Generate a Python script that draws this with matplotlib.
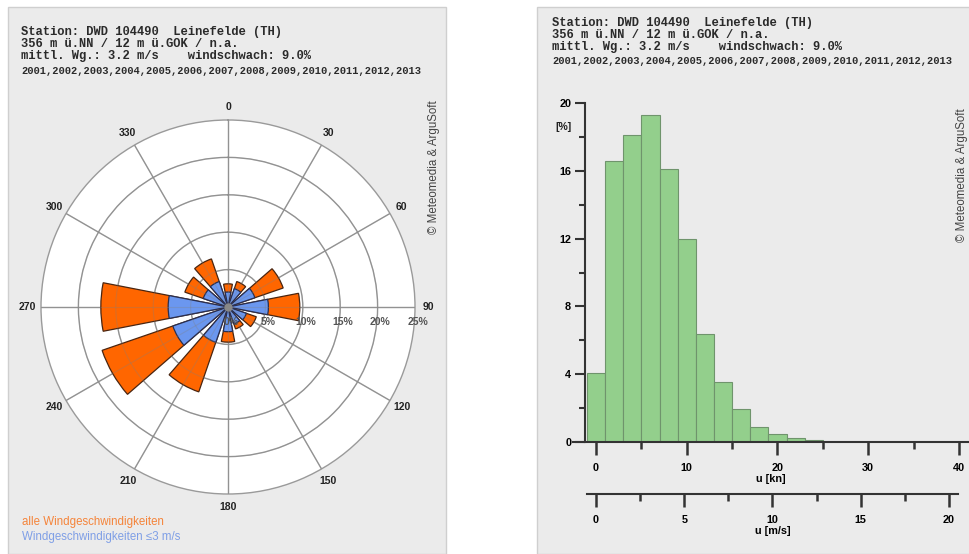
import numpy as np
import matplotlib
matplotlib.use('Agg')
import matplotlib.pyplot as plt
from matplotlib.patches import Rectangle
from matplotlib.ticker import MultipleLocator

plt.rcParams['font.family'] = ['Liberation Sans', 'DejaVu Sans']

# wind rose data (direction in degrees, frequency in %)
directions = [0, 30, 60, 90, 120, 150, 180, 210, 240, 270, 300, 330]
all_speeds = [3.1, 3.6, 7.8, 9.6, 4.0, 3.1, 4.7, 12.0, 17.8, 17.0, 6.1, 6.8]
low_speeds = [2.0, 2.6, 3.8, 5.4, 2.6, 2.4, 3.3, 5.0, 7.8, 8.0, 3.5, 3.6]
rose_rings = [5, 10, 15, 20, 25]

# speed distribution (bin centres in knots, frequency in %)
speed_kn = [0, 2, 4, 6, 8, 10, 12, 14, 16, 18, 20, 22, 24]
speed_freq = [4.1, 16.6, 18.1, 19.3, 16.1, 12.0, 6.4, 3.55, 1.97, 0.9, 0.47, 0.25, 0.12]

header = ['Station: DWD 104490  Leinefelde (TH)',
          '356 m \u00fc.NN / 12 m \u00fc.GOK / n.a.',
          'mittl. Wg.: 3.2 m/s    windschwach: 9.0%']
years = '2001,2002,2003,2004,2005,2006,2007,2008,2009,2010,2011,2012,2013'

W, H = 970, 554
fig = plt.figure(figsize=(W / 100, H / 100), dpi=100)


def box(x0, y0, x1, y1):
    # pixel box (top-left origin) -> figure fraction rect
    return [x0 / W, 1 - y1 / H, (x1 - x0) / W, (y1 - y0) / H]


def ft(x, y, s, **kw):
    fig.text(x / W, 1 - y / H, s, **kw)


# panel backgrounds
for x0, x1 in [(8, 446), (537, 972)]:
    fig.patches.append(Rectangle((x0 / W, 0), (x1 - x0) / W, 1 - 7 / H,
                                 transform=fig.transFigure, facecolor='#ebebeb',
                                 edgecolor='#cfcfcf', lw=1, zorder=-5))

# header texts
mono = dict(family='Liberation Mono', fontweight='bold', color='#2a2a2a', va='center')
for (x, ys) in [(21, [32, 44, 56, 71]), (552, [23, 35, 47, 61])]:
    for line, y in zip(header, ys[:3]):
        ft(x, y, line, fontsize=8.7, **mono)
    ft(x, ys[3], years, fontsize=7.5, **mono)

# ---------------- wind rose ----------------
cx, cy, R = 228, 307, 187
ax = fig.add_axes(box(cx - R, cy - R, cx + R, cy + R), projection='polar')
ax.set_theta_zero_location('N')
ax.set_theta_direction(-1)
ax.set_ylim(0, 25)
ax.set_facecolor('white')
ax.set_axisbelow(True)
ax.set_xticks(np.deg2rad(directions))
ax.set_xticklabels([])
ax.set_yticks(rose_rings[:-1])
ax.set_yticklabels([])
ax.grid(True, color='#9a9a9a', lw=1)
ax.spines['polar'].set_color('#9a9a9a')
ax.spines['polar'].set_linewidth(1)

theta = np.deg2rad(directions)
width = np.deg2rad(22)
ax.bar(theta, all_speeds, width=width, color='#ff6600', edgecolor='#4a2510', lw=0.9, zorder=2)
ax.bar(theta, low_speeds, width=width, color='#6b97ef', edgecolor='#2a2f50', lw=0.9, zorder=3)
# faint grid showing through the bars
t = np.linspace(0, 2 * np.pi, 200)
for r in rose_rings[:-1]:
    ax.plot(t, np.full_like(t, r), color='#808080', lw=0.8, alpha=0.3, zorder=4)
for d in directions:
    ax.plot([np.deg2rad(d)] * 2, [0, 25], color='#808080', lw=0.8, alpha=0.3, zorder=4)
ax.plot([0], [0], 'o', color='#888888', ms=5, zorder=5)

for d in directions:
    ax.text(np.deg2rad(d), 26.8, str(d), ha='center', va='center', fontsize=7.5,
            fontweight='bold', color='#222222', clip_on=False)
for r in [0] + rose_rings:
    ax.annotate(f'{r}%', xy=(np.pi / 2, r), xytext=(2, -11), textcoords='offset points',
                ha='center', va='center', fontsize=7.5, fontweight='bold',
                color='#555555', annotation_clip=False, zorder=6)

ft(22, 522, 'alle Windgeschwindigkeiten', fontsize=8.3, color='#f5843a', va='center')
ft(22, 537, 'Windgeschwindigkeiten \u22643 m/s', fontsize=8.3, color='#7f9fe6', va='center')
ft(434, 167, '\u00a9 Meteomedia & ArguSoft', fontsize=8.3, color='#444444',
   rotation=90, ha='center', va='center')

# ---------------- histogram ----------------
hx = fig.add_axes(box(573, 103, 968, 442))
hx.set_facecolor('none')
hx.set_xlim(-2.54, 41.0)
hx.set_ylim(0, 20)
hx.bar(speed_kn, speed_freq, width=2.0, color='#93cf8c', edgecolor='#6f946c', lw=0.8)
for s in ['top', 'right']:
    hx.spines[s].set_visible(False)
hx.spines['left'].set_position(('data', -1.21))
for s in ['left', 'bottom']:
    hx.spines[s].set_color('#333333')
    hx.spines[s].set_linewidth(1.5)
hx.xaxis.set_major_locator(MultipleLocator(10))
hx.xaxis.set_minor_locator(MultipleLocator(5))
hx.yaxis.set_major_locator(MultipleLocator(4))
hx.yaxis.set_minor_locator(MultipleLocator(2))
hx.tick_params(axis='x', which='major', length=9, width=1.8, color='#333333', pad=6,
               labelsize=7.8)
hx.tick_params(axis='x', which='minor', length=5, width=1.8, color='#333333')
hx.tick_params(axis='y', which='major', length=7, width=1.5, color='#333333', pad=3,
               labelsize=7.8)
hx.tick_params(axis='y', which='minor', length=4, width=1.5, color='#333333')
for lab in hx.get_xticklabels() + hx.get_yticklabels():
    lab.set_fontweight('bold')
hx.set_xlabel('u [kn]', fontsize=7.8, fontweight='bold', labelpad=1)
ft(563, 127, '[%]', fontsize=7.5, fontweight='bold', color='#222222', ha='center', va='center')

mx = fig.add_axes(box(587, 493, 958, 494))
mx.set_facecolor('none')
mx.set_xlim(-0.51, 20.51)
mx.set_yticks([])
for s in ['top', 'right', 'left']:
    mx.spines[s].set_visible(False)
mx.spines['bottom'].set_color('#333333')
mx.spines['bottom'].set_linewidth(1.5)
mx.xaxis.set_major_locator(MultipleLocator(5))
mx.xaxis.set_minor_locator(MultipleLocator(2.5))
mx.tick_params(axis='x', which='major', length=9, width=1.8, color='#333333', pad=6,
               labelsize=7.8)
mx.tick_params(axis='x', which='minor', length=5, width=1.8, color='#333333')
for lab in mx.get_xticklabels():
    lab.set_fontweight('bold')
mx.set_xlabel('u [m/s]', fontsize=7.8, fontweight='bold', labelpad=1)

ft(962, 175, '\u00a9 Meteomedia & ArguSoft', fontsize=8.3, color='#444444',
   rotation=90, ha='center', va='center')

fig.savefig('out.png', dpi=100)
